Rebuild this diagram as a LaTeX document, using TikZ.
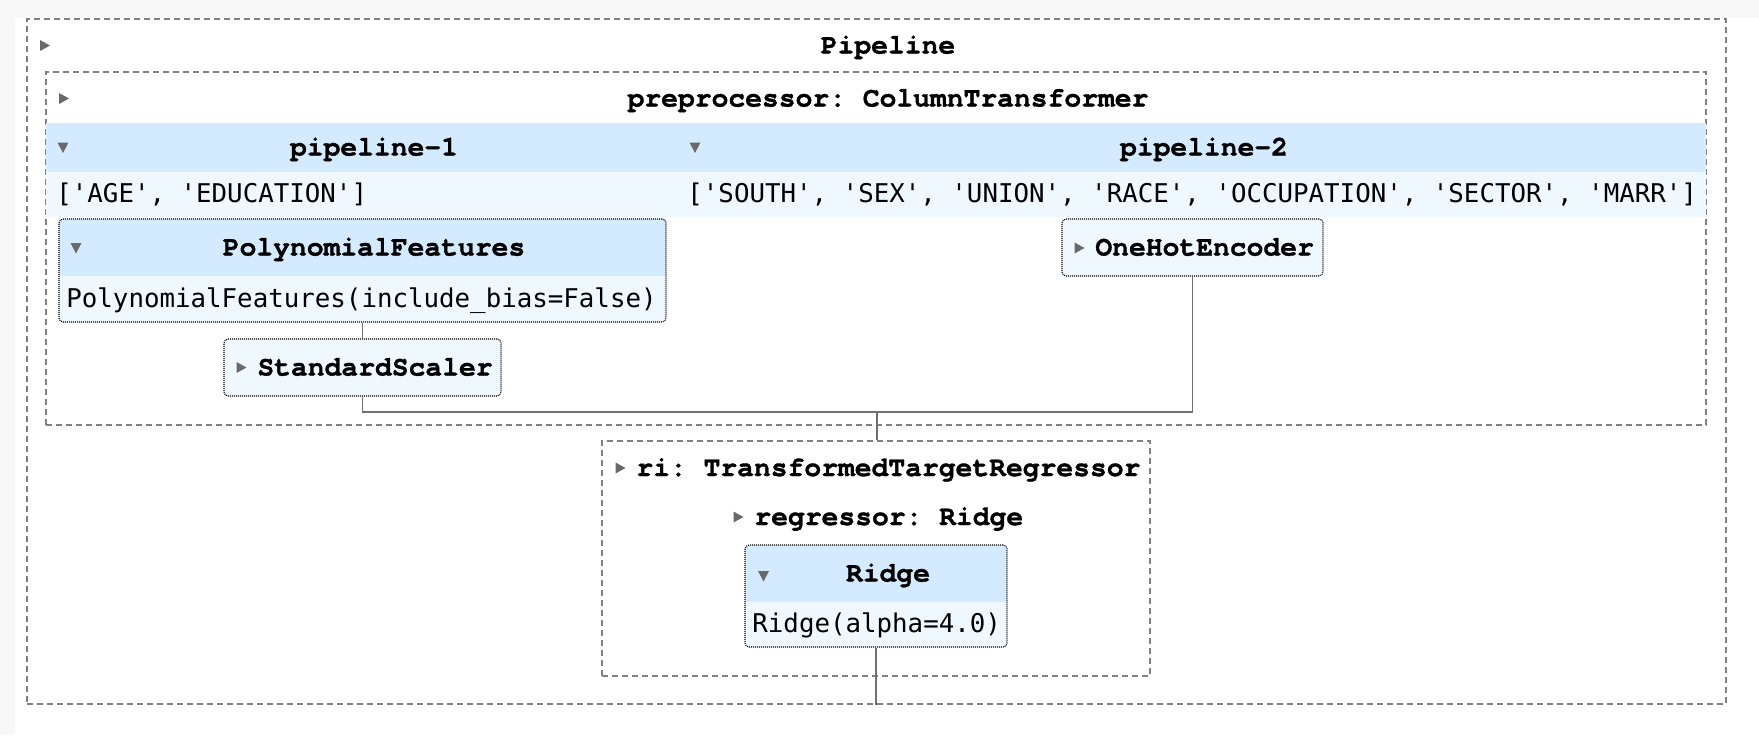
\documentclass[tikz,border=0pt]{standalone}
\usepackage{fontspec}
\setmonofont{DejaVu Sans Mono}
\newfontfamily\lblfont{texgyrecursor}[Extension=.otf, UprightFont=*-regular, BoldFont=*-bold, BoldFeatures={FakeBold=1.2}]
\usetikzlibrary{fit}
\definecolor{hdr}{HTML}{D4EBFF}
\definecolor{val}{HTML}{F0F8FF}
\definecolor{dashgray}{HTML}{808080}
\definecolor{linegray}{HTML}{707070}
\definecolor{icon}{HTML}{696969}
\definecolor{pagebg}{HTML}{F8F8F8}
\tikzset{
  dashbox/.style={draw=dashgray, line width=0.8pt, dash pattern=on 3pt off 2pt, inner sep=0pt},
  dotbox/.style={draw=black, line width=0.55pt, dash pattern=on 0.5pt off 0.5pt, rounded corners=2pt, inner sep=0pt},
  conn/.style={draw=linegray, line width=0.8pt},
  lbl/.style={font=\lblfont\bfseries\fontsize{14}{14}\selectfont\frenchspacing, inner sep=0pt, text height=0.8em, text depth=0em},
  valtxt/.style={font=\ttfamily\fontsize{12.9}{13}\selectfont\frenchspacing, inner sep=0pt, anchor=west, text height=0.8em, text depth=0em},
  rarrow/.pic={\fill[icon] (-4.5,-5.5) -- (5.5,0) -- (-4.5,5.5) -- cycle;},
  darrow/.pic={\fill[icon] (-5.5,-5) -- (5.5,-5) -- (0,5.5) -- cycle;},
}
\begin{document}
\begin{tikzpicture}[x=0.5pt,y=-0.5pt]
\useasboundingbox (0,0) rectangle (1759,735);
% page background
\fill[pagebg] (0,0) rectangle (1759,735);
\fill[white] (15,18) rectangle (1759,735);

% outer pipeline box
\node[dashbox, fit={(27,19)(1726,704)}] (outer) {};
\pic at (44.5,45.5) {rarrow};
\node[lbl] (tpipe) at (888,45.5) {Pipeline};

% preprocessor box
\node[dashbox, fit={(46,72)(1706,425)}] (pre) {};
\pic at (63.5,98.5) {rarrow};
\node[lbl] (tpre) at (888,98.5) {preprocessor: ColumnTransformer};

% column bands
\fill[hdr] (46,123) rectangle (1706,172);
\fill[val] (46,172) rectangle (1706,217);
\node[inner sep=0pt, fit={(46,123)(678,217)}] (col1) {};
\node[inner sep=0pt, fit={(678,123)(1706,217)}] (col2) {};
\pic at (63,147.5) {darrow};
\pic at (695,147.5) {darrow};
\node[lbl] (tp1) at (374,147.5) {pipeline-1};
\node[lbl] (tp2) at (1204,147.5) {pipeline-2};
\node[valtxt] (v1) at (56,194.5) {['AGE', 'EDUCATION']};
\node[valtxt] (v2) at (687,194.5) {['SOUTH', 'SEX', 'UNION', 'RACE', 'OCCUPATION', 'SECTOR', 'MARR']};

% PolynomialFeatures
\begin{scope}
  \clip[rounded corners=2pt] (59,219) rectangle (666,322);
  \fill[val] (59,219) rectangle (666,322);
  \fill[hdr] (59,219) rectangle (666,276);
\end{scope}
\node[dotbox, fit={(59,219)(666,322)}] (pf) {};
\pic at (76,248) {darrow};
\node[lbl] (tpf) at (374,247.5) {PolynomialFeatures};
\node[valtxt] (vpf) at (66,299) {PolynomialFeatures(include\_bias=False)};

% StandardScaler
\node[dotbox, fill=val, fit={(224,339)(501,396)}] (ss) {};
\pic at (241,367.5) {rarrow};
\node[lbl, anchor=west] (tss) at (257,367.5) {StandardScaler};

% OneHotEncoder
\node[dotbox, fill=val, fit={(1062,219)(1323,276)}] (oh) {};
\pic at (1079,248) {rarrow};
\node[lbl, anchor=west] (toh) at (1095,247.5) {OneHotEncoder};

% ri box
\node[dashbox, fit={(602,441)(1150,676)}] (ri) {};
\pic at (620,468) {rarrow};
\node[lbl, anchor=west] (tri) at (636,468) {ri: TransformedTargetRegressor};
\pic at (738,517) {rarrow};
\node[lbl, anchor=west] (treg) at (754,517) {regressor: Ridge};

% Ridge
\begin{scope}
  \clip[rounded corners=2pt] (745,545) rectangle (1007,647);
  \fill[val] (745,545) rectangle (1007,647);
  \fill[hdr] (745,545) rectangle (1007,602);
\end{scope}
\node[dotbox, fit={(745,545)(1007,647)}] (ridge) {};
\pic at (763.5,576) {darrow};
\node[lbl] (tridge) at (888,573.5) {Ridge};
\node[valtxt] (vridge) at (752,624.5) {Ridge(alpha=4.0)};

% connectors
\coordinate (join) at (877,412);
\draw[conn] (pf.south) -- (ss.north);
\draw[conn] (ss.south) |- (join) -| (oh.south);
\draw[conn] (join) -- (join |- ri.north);
\draw[conn] (ridge.south) -- (ridge.south |- outer.south);
\end{tikzpicture}
\end{document}
